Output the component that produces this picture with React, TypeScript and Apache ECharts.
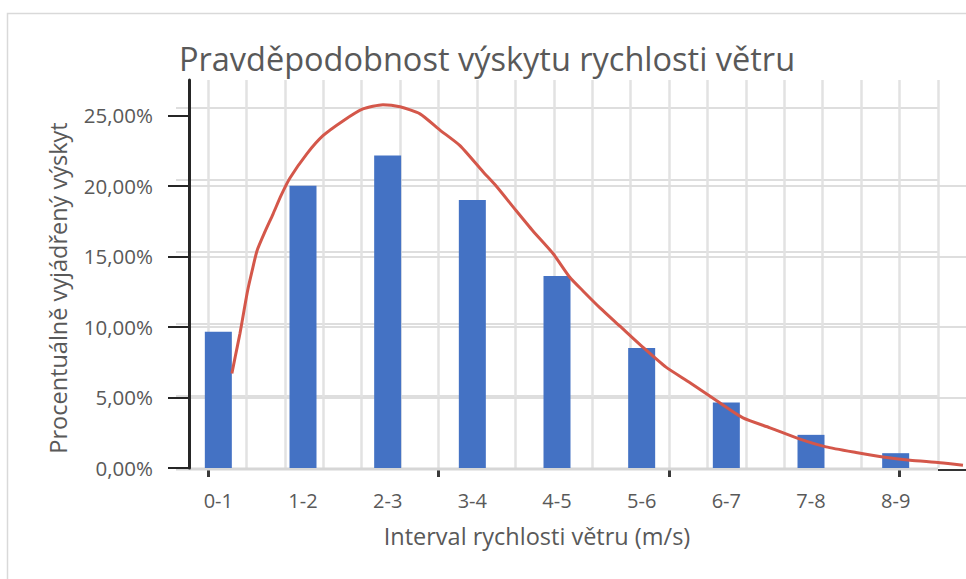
import React, { useEffect, useRef } from "react";
import * as echarts from "echarts";

const categories = ["0-1", "1-2", "2-3", "3-4", "4-5", "5-6", "6-7", "7-8", "8-9"];
const barValues = [9.65, 20.0, 22.15, 19.0, 13.6, 8.5, 4.65, 2.35, 1.05];
const curveX = [0.66, 0.7, 0.756, 0.803, 0.845, 0.898, 0.957, 1.051, 1.146, 1.24, 1.346, 1.543, 1.736, 1.972, 2.208, 2.444, 2.645, 2.882, 3.118, 3.354, 3.626, 3.779, 4.016, 4.216, 4.453, 4.653, 4.807, 5.008, 5.244, 5.516, 5.787, 6.071, 6.378, 6.697, 7.016, 7.37, 7.677, 8.032, 8.351, 8.67, 9.024, 9.295];
const curveY = [6.7, 7.9, 9.55, 11.15, 12.55, 13.95, 15.4, 16.75, 18.0, 19.3, 20.55, 22.25, 23.55, 24.6, 25.45, 25.75, 25.6, 25.1, 23.95, 22.85, 21.0, 20.0, 18.25, 16.8, 15.2, 13.5, 12.55, 11.35, 10.05, 8.55, 7.15, 6.05, 4.8, 3.55, 2.85, 2.05, 1.5, 1.1, 0.78, 0.55, 0.38, 0.2];
const yTicks = [0, 5, 10, 15, 20, 25];

const TITLE = "Pravděpodobnost výskytu rychlosti větru";
const X_TITLE = "Interval rychlosti větru (m/s)";
const Y_TITLE = "Procentuálně vyjádřený výskyt";

const FONT = "'Open Sans', 'Noto Sans', sans-serif";
const TEXT = "#595959";
const GRID = "#dedede";

export default function App() {
  const ref = useRef<HTMLDivElement>(null);
  useEffect(() => {
    if (!ref.current) return;
    const chart = echarts.init(ref.current, null, { renderer: "svg" });
    const fmt = (v: number) => v.toFixed(2).replace(".", ",") + "%";
    const hiddenY = (gi: number) => ({ type: "value", gridIndex: gi, min: 0, max: 1, show: false });
    const curveMax = 790 / (762 / 9);
    chart.setOption({
      animation: false,
      backgroundColor: "#ffffff",
      textStyle: { fontFamily: FONT },
      grid: [
        { left: 176, right: 28, top: 80, bottom: 111, containLabel: false },
        { left: 189, right: 0, top: 80, bottom: 111, containLabel: false },
        { left: 208, right: 28, top: 80, bottom: 111, containLabel: false },
        { left: 208, right: 966 - 208 - 18 * 38.42, top: 80, bottom: 111, containLabel: false },
        { left: 176, right: 0, top: 80, bottom: 111, containLabel: false },
      ],
      xAxis: [
        {
          type: "category",
          gridIndex: 0,
          data: categories,
          axisLine: { show: false },
          axisTick: { show: false },
          axisLabel: { color: TEXT, fontSize: 20, margin: 22, fontFamily: FONT },
          splitLine: { show: false },
        },
        {
          type: "value",
          gridIndex: 1,
          min: 0,
          max: 1,
          show: false,
        },
        {
          type: "value",
          gridIndex: 2,
          min: 0,
          max: 19,
          interval: 1,
          axisLine: { show: false },
          axisTick: { show: false },
          axisLabel: { show: false },
          splitLine: { show: true, lineStyle: { color: "#e2e2e2", width: 2.5 } },
        },
        {
          type: "value",
          gridIndex: 3,
          min: 0,
          max: 18,
          interval: 6,
          axisLine: { show: false },
          axisTick: { show: true, length: 9, inside: false, lineStyle: { color: "#3a3a3a", width: 3 } },
          axisLabel: { show: false },
          splitLine: { show: false },
        },
        {
          type: "value",
          gridIndex: 4,
          min: 0,
          max: curveMax,
          show: false,
        },
      ],
      yAxis: [
        {
          type: "value",
          gridIndex: 0,
          min: 0,
          max: 27.5,
          show: false,
        },
        {
          type: "value",
          gridIndex: 1,
          min: 0,
          max: 27.5,
          interval: 5,
          axisLine: { show: true, onZero: false, lineStyle: { color: "#262626", width: 3 } },
          axisTick: {
            show: true,
            length: 21,
            inside: false,
            lineStyle: { color: "#262626", width: 2 },
            customValues: yTicks,
          },
          axisLabel: {
            color: TEXT,
            fontSize: 20.5,
            margin: 36,
            fontFamily: FONT,
            customValues: yTicks,
            formatter: (v: number) => fmt(v),
          },
          splitLine: { show: true, showMaxLine: false, showMinLine: false, lineStyle: { color: GRID, width: 2 } },
          z: 4,
        },
        {
          type: "value",
          gridIndex: 0,
          min: 0,
          max: 388 / 14.4,
          interval: 5,
          axisLine: { show: false },
          axisTick: { show: false },
          axisLabel: { show: false },
          splitLine: { show: true, showMaxLine: false, showMinLine: false, lineStyle: { color: GRID, width: 2 } },
        },
        hiddenY(2),
        hiddenY(3),
        { type: "value", gridIndex: 4, min: 0, max: 27.5, show: false },
      ],
      series: [
        {
          type: "bar",
          xAxisIndex: 0,
          yAxisIndex: 0,
          data: barValues,
          barWidth: 27,
          itemStyle: { color: "#4472c4" },
          z: 5,
        },
        {
          type: "line",
          xAxisIndex: 4,
          yAxisIndex: 5,
          data: curveX.map((x, i) => [x, curveY[i]]),
          showSymbol: false,
          symbol: "none",
          smooth: 0.2,
          clip: false,
          lineStyle: { color: "#d4574a", width: 3 },
          z: 6,
        },
      ],
      graphic: [
        {
          type: "rect",
          shape: { x: 7.5, y: 13.5, width: 1000, height: 700 },
          style: { fill: "none", stroke: "#d9d9d9", lineWidth: 1.5 },
          z: 0,
          silent: true,
        },
        {
          type: "line",
          shape: { x1: 176, y1: 469, x2: 938, y2: 469 },
          style: { stroke: "#d6d6d6", lineWidth: 3 },
          z: 1,
        },
        {
          type: "line",
          shape: { x1: 938, y1: 470, x2: 966, y2: 470 },
          style: { stroke: "#333333", lineWidth: 2 },
          z: 10,
        },
        {
          type: "text",
          x: 487,
          y: 58,
          style: {
            text: TITLE,
            fill: TEXT,
            font: `32.5px ${FONT}`,
            textAlign: "center",
            textVerticalAlign: "middle",
          },
          z: 10,
        },
        {
          type: "text",
          x: 537,
          y: 536,
          style: {
            text: X_TITLE,
            fill: TEXT,
            font: `23.5px ${FONT}`,
            textAlign: "center",
            textVerticalAlign: "middle",
          },
          z: 10,
        },
        {
          type: "text",
          x: 58,
          y: 288,
          rotation: Math.PI / 2,
          style: {
            text: Y_TITLE,
            fill: TEXT,
            font: `23.5px ${FONT}`,
            textAlign: "center",
            textVerticalAlign: "middle",
          },
          z: 10,
        },
      ],
    });
    return () => chart.dispose();
  }, []);
  return (
    <div
      ref={ref}
      style={{ position: "fixed", left: 0, top: 0, width: 966, height: 579, background: "#fff" }}
    />
  );
}
